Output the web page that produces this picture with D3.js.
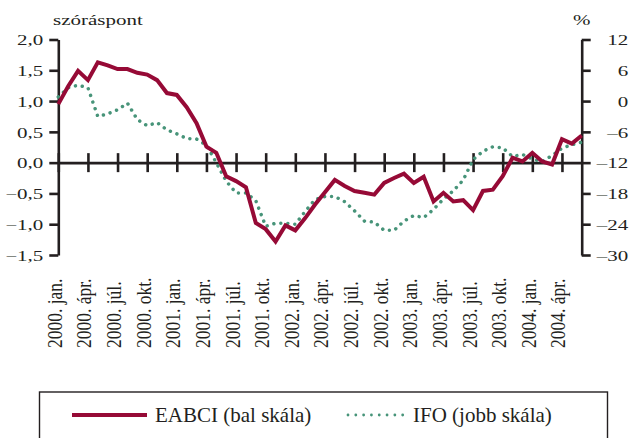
<!DOCTYPE html>
<html>
<head>
<meta charset="utf-8">
<script src="https://cdn.jsdelivr.net/npm/d3@7"></script>
<style>
	body { margin: 0; background: #fff; }
	svg { display: block; }
	svg text { font-family: "Liberation Serif", "Times New Roman", Times, serif !important; fill: #231f20; }
</style>
</head>
<body>
<svg width="630" height="438"></svg>
<script>
// havi adatok 2000. jan. - 2004. jún.
const eabci = [
	0.95, 1.24, 1.49, 1.34, 1.63, 1.58, 1.52, 1.52, 1.46, 1.43, 1.34, 1.13,
	1.10, 0.90, 0.64, 0.26, 0.16, -0.22, -0.30, -0.40, -0.98, -1.08, -1.28, -1.02,
	-1.10, -0.90, -0.68, -0.48, -0.28, -0.38, -0.46, -0.49, -0.52, -0.33, -0.25, -0.18,
	-0.33, -0.23, -0.63, -0.49, -0.63, -0.61, -0.77, -0.46, -0.44, -0.22, 0.08, 0.02,
	0.16, 0.02, -0.03, 0.38, 0.31, 0.44
];

const ifo = [
	0.8, 2.6, 3.1, 2.6, -3.0, -2.5, -1.7, -0.4, -3.6, -4.8, -4.2, -5.6,
	-6.4, -7.3, -7.4, -8.6, -12.0, -15.6, -17.9, -17.9, -19.4, -24.4, -23.8, -23.8,
	-24.0, -21.5, -19.2, -18.6, -18.6, -19.6, -21.4, -23.4, -23.6, -25.2, -25.2, -23.4,
	-22.3, -22.7, -21.1, -19.1, -17.5, -15.4, -11.4, -9.8, -8.9, -9.1, -10.8, -10.4,
	-11.3, -11.8, -10.6, -9.2, -8.5, -8.0
];

const quarterLabels = [
	'2000. jan.', '2000. ápr.', '2000. júl.', '2000. okt.',
	'2001. jan.', '2001. ápr.', '2001. júl.', '2001. okt.',
	'2002. jan.', '2002. ápr.', '2002. júl.', '2002. okt.',
	'2003. jan.', '2003. ápr.', '2003. júl.', '2003. okt.',
	'2004. jan.', '2004. ápr.'
];

const leftTicks = [-1.5, -1.0, -0.5, 0.0, 0.5, 1.0, 1.5, 2.0];
const rightTicks = [-30, -24, -18, -12, -6, 0, 6, 12];

const red = '#960a36';
const green = '#479479';
const ink = '#231f20';
const serif = '"Liberation Serif", "Times New Roman", Times, serif';
const sx = 1.4; // a kép vízszintesen nyújtott

const svg = d3.select('svg');

const x = d3.scaleLinear().domain([0, eabci.length - 1]).range([58.3, 581.7]);
const yL = d3.scaleLinear().domain([-1.5, 2.0]).range([255, 39.5]);
const yR = d3.scaleLinear().domain([-30, 12]).range([255, 39.5]);

const huNum = d => d3.format('.1f')(d).replace('.', ',').replace('-', '–');
const huInt = d => String(d).replace('-', '–');

const styleAxis = g => {
	g.attr('font-family', serif);
	g.select('.domain').attr('stroke', ink).attr('stroke-width', 2.6);
	g.selectAll('.tick line').attr('stroke', ink).attr('stroke-width', 2.6);
	g.selectAll('.tick text').attr('x', 0).attr('y', 0).attr('dy', 0)
		.style('font-family', serif)
		.style('font-size', '15px');
};

// bal tengely
const gl = svg.append('g')
	.attr('transform', `translate(${x(0)},0)`)
	.call(d3.axisLeft(yL).tickValues(leftTicks).tickSize(9).tickSizeOuter(0).tickFormat(huNum))
	.call(styleAxis);
gl.selectAll('.tick text')
	.attr('text-anchor', 'end')
	.attr('transform', `translate(-15,5.2) scale(${sx},1)`);

// jobb tengely
const gr = svg.append('g')
	.attr('transform', `translate(${x(eabci.length - 1)},0)`)
	.call(d3.axisRight(yR).tickValues(rightTicks).tickSize(9).tickSizeOuter(0).tickFormat(huInt))
	.call(styleAxis);
gr.selectAll('.tick text')
	.attr('text-anchor', 'end')
	.attr('transform', `translate(46.5,5.2) scale(${sx},1)`);

// vízszintes tengely a nullánál
const tickIdx = quarterLabels.map((d, i) => i * 3);
const gx = svg.append('g')
	.attr('transform', `translate(0,${yL(0)})`)
	.call(d3.axisBottom(x).tickValues(tickIdx).tickSize(9).tickSizeOuter(0)
		.tickFormat((d, i) => quarterLabels[i]))
	.call(styleAxis);
gx.selectAll('.tick line').attr('y1', -9.5).attr('y2', 9.5);
gx.selectAll('.tick text')
	.attr('text-anchor', 'start')
	.style('font-size', '17.5px')
	.attr('transform', `translate(3,${348 - yL(0)}) scale(1.25,1) rotate(-90)`);

// címkék
svg.append('text').text('szóráspont')
	.style('font-family', serif).style('font-size', '15px')
	.attr('transform', `translate(53,25) scale(${sx},1)`);
svg.append('text').text('%')
	.style('font-family', serif).style('font-size', '15px')
	.attr('transform', `translate(573,25) scale(${sx},1)`);

// vonalak
const lineL = d3.line().x((d, i) => x(i)).y(d => yL(d));
const lineR = d3.line().x((d, i) => x(i)).y(d => yR(d));

svg.append('path').datum(ifo)
	.attr('d', lineR)
	.attr('fill', 'none')
	.attr('stroke', green)
	.attr('stroke-width', 3.5)
	.attr('stroke-linecap', 'round')
	.attr('stroke-dasharray', '0.01 7');

svg.append('path').datum(eabci)
	.attr('d', lineL)
	.attr('fill', 'none')
	.attr('stroke', red)
	.attr('stroke-width', 4)
	.attr('stroke-linejoin', 'miter');

// jelmagyarázat
const lg = svg.append('g');
lg.append('rect')
	.attr('x', 39.5).attr('y', 392)
	.attr('width', 568).attr('height', 80)
	.attr('fill', 'none').attr('stroke', ink).attr('stroke-width', 1.4);
lg.append('line')
	.attr('x1', 72).attr('x2', 147).attr('y1', 415).attr('y2', 415)
	.attr('stroke', red).attr('stroke-width', 4);
lg.append('text').text('EABCI (bal skála)')
	.attr('x', 155).attr('y', 422)
	.style('font-family', serif).style('font-size', '21px');
lg.append('line')
	.attr('x1', 348).attr('x2', 403).attr('y1', 415).attr('y2', 415)
	.attr('stroke', green).attr('stroke-width', 2.8)
	.attr('stroke-linecap', 'round').attr('stroke-dasharray', '0.01 7.8');
lg.append('text').text('IFO (jobb skála)')
	.attr('x', 413).attr('y', 422)
	.style('font-family', serif).style('font-size', '21px');
</script>
</body>
</html>
